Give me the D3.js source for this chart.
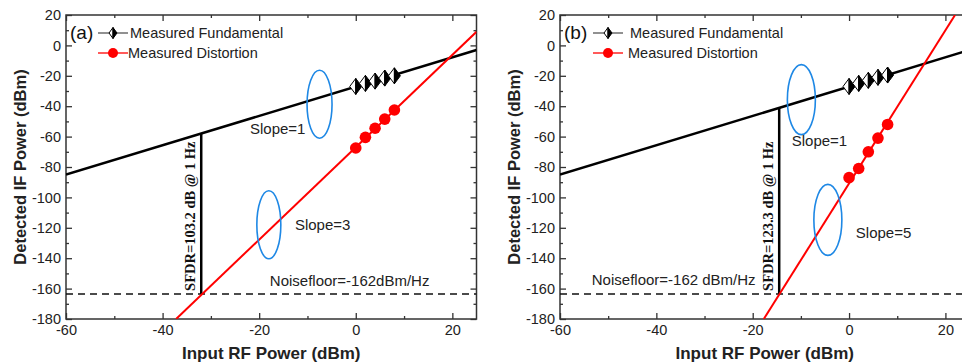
<!DOCTYPE html>
<html>
<head>
<meta charset="utf-8">
<script src="https://cdn.jsdelivr.net/npm/d3@7"></script>
<style>
  body { margin: 0; background: #fff; }
  svg { display: block; font-family: "Liberation Sans", Arial, sans-serif; }
  .tick line { stroke: #333; stroke-width: 1.3; }
</style>
</head>
<body>
<svg id="chart" width="962" height="364"></svg>
<script>
// ---- data ----
const xTicks = [-60, -40, -20, 0, 20];
const xMinor = [-50, -30, -10, 10];
const yTicks = [20, 0, -20, -40, -60, -80, -100, -120, -140, -160, -180];
const yMinor = [10, -10, -30, -50, -70, -90, -110, -130, -150, -170];

const inputPower = [0, 2, 4, 6, 8];
const fundA = [-27, -25, -23.5, -21.5, -20];
const distA = [-67.5, -60.5, -54.5, -48.5, -42.5];
const fundB = [-27, -25, -23, -21, -19.5];
const distB = [-87, -81, -70, -61, -52];

// fitted lines (x, y endpoints)
const fitFund = [[-60, -85], [25, -3]];
const fitDistA = [[-37.2, -180], [25, 9]];
const fitDistB = [[-17.7, -180], [22, 20]];
const noiseFloor = -163.5;
const sfdrXA = -32, sfdrXB = -14.5;

const svg = d3.select("#chart");
svg.append("rect").attr("width", 962).attr("height", 364).attr("fill", "#fff");

const fmt = d => String(d);   // plain hyphen minus like the original

function fundAt(v) {
  const [[x0, y0], [x1, y1]] = fitFund;
  return y0 + (v - x0) * (y1 - y0) / (x1 - x0);
}

function panel(o) {
  const x = d3.scaleLinear().domain([-60, 25]).range([o.left, o.right]);
  const y = d3.scaleLinear().domain([-180, 20]).range([319, 15]);
  const g = svg.append("g");
  const clipId = "clip" + o.tag;
  g.append("clipPath").attr("id", clipId)
    .append("rect").attr("x", o.left).attr("y", 15)
    .attr("width", o.right - o.left).attr("height", 304);

  // axes, ticks inward
  const axes = g.append("g");
  axes.append("g").attr("transform", `translate(${o.left},0)`)
    .call(d3.axisLeft(y).tickValues(yTicks).tickSize(-6).tickPadding(5).tickFormat(fmt));
  axes.append("g").attr("transform", `translate(${o.left},0)`)
    .call(d3.axisLeft(y).tickValues(yMinor).tickSize(-3).tickFormat(""));
  axes.append("g").attr("transform", `translate(${o.right},0)`)
    .call(d3.axisRight(y).tickValues(yTicks).tickSize(-6).tickFormat(""));
  axes.append("g").attr("transform", `translate(${o.right},0)`)
    .call(d3.axisRight(y).tickValues(yMinor).tickSize(-3).tickFormat(""));
  axes.append("g").attr("transform", "translate(0,319)")
    .call(d3.axisBottom(x).tickValues(xTicks).tickSize(-6).tickPadding(6).tickFormat(fmt));
  axes.append("g").attr("transform", "translate(0,319)")
    .call(d3.axisBottom(x).tickValues(xMinor).tickSize(-3).tickFormat(""));
  axes.append("g").attr("transform", "translate(0,15)")
    .call(d3.axisTop(x).tickValues(xTicks).tickSize(-6).tickFormat(""));
  axes.append("g").attr("transform", "translate(0,15)")
    .call(d3.axisTop(x).tickValues(xMinor).tickSize(-3).tickFormat(""));
  axes.selectAll(".domain").remove();
  axes.selectAll("g").attr("font-family", null).attr("font-size", null);
  axes.selectAll(".tick text").attr("fill", "#222").style("font-size", "14.5px");
  g.append("rect").attr("x", o.left).attr("y", 15)
    .attr("width", o.right - o.left).attr("height", 304)
    .attr("fill", "none").attr("stroke", "#333").attr("stroke-width", 1.5);

  // axis titles
  g.append("text").attr("x", (o.left + o.right) / 2).attr("y", 359)
    .attr("text-anchor", "middle").attr("font-weight", "bold").attr("font-size", 17)
    .attr("fill", "#222").text("Input RF Power (dBm)");
  g.append("text").attr("transform", `translate(${o.left - 40},167) rotate(-90)`)
    .attr("text-anchor", "middle").attr("font-weight", "bold").attr("font-size", 16.5)
    .attr("fill", "#222").text("Detected IF Power (dBm)");

  const plot = g.append("g").attr("clip-path", `url(#${clipId})`);
  const line = d3.line().x(d => x(d[0])).y(d => y(d[1]));

  // noise floor
  plot.append("path").datum([[-60, noiseFloor], [25, noiseFloor]])
    .attr("d", line).attr("stroke", "#111").attr("stroke-width", 1.5)
    .attr("stroke-dasharray", "7,5").attr("fill", "none");

  // SFDR bar
  plot.append("path").datum([[o.sfdrX, noiseFloor], [o.sfdrX, fundAt(o.sfdrX)]])
    .attr("d", line).attr("stroke", "#000").attr("stroke-width", 2.5).attr("fill", "none");

  // fit lines
  plot.append("path").datum(fitFund).attr("d", line)
    .attr("stroke", "#000").attr("stroke-width", 2.5).attr("fill", "none");
  plot.append("path").datum(o.fitDist).attr("d", line)
    .attr("stroke", "#f00").attr("stroke-width", 2).attr("fill", "none");

  // measured distortion
  plot.selectAll(".dot").data(inputPower.map((p, i) => [p, o.dist[i]])).enter()
    .append("circle").attr("cx", d => x(d[0])).attr("cy", d => y(d[1]))
    .attr("r", 5.8).attr("fill", "#f00");

  // measured fundamental (half filled diamonds)
  const dia = plot.selectAll(".dia").data(inputPower.map((p, i) => [p, o.fund[i]])).enter()
    .append("g").attr("transform", d => `translate(${x(d[0])},${y(d[1])})`);
  diamond(dia, 6, 8);

  // ellipses
  o.ellipses.forEach(e => {
    g.append("ellipse").attr("cx", x(e.x)).attr("cy", y(e.y))
      .attr("rx", e.rx).attr("ry", e.ry)
      .attr("fill", "none").attr("stroke", "#1e88e5").attr("stroke-width", 1.6);
  });

  // annotations
  o.labels.forEach(l => {
    g.append("text").attr("x", x(l.x)).attr("y", y(l.y)).attr("dy", "0.35em")
      .attr("font-size", 15).attr("fill", "#222").text(l.t);
  });
  g.append("text")
    .attr("transform", `translate(${x(o.sfdrX) - 6},${y(noiseFloor) - 3}) rotate(-90)`)
    .attr("font-family", "'Liberation Serif', 'Times New Roman', serif")
    .attr("font-weight", "bold").attr("font-size", 14.5).attr("fill", "#111")
    .text(o.sfdrText);

  // legend
  const lx = o.left;
  g.append("text").attr("x", lx + 4).attr("y", 39).attr("font-size", 19)
    .attr("fill", "#111").text(o.tag === "a" ? "(a)" : "(b)");
  const l1 = g.append("g").attr("transform", `translate(${lx + o.legDx},33)`);
  l1.append("line").attr("x1", 0).attr("x2", 30).attr("stroke", "#555").attr("stroke-width", 1.3);
  diamond(l1.append("g").attr("transform", "translate(15,0)"), 4, 5.5);
  l1.append("text").attr("x", o.legText).attr("dy", "0.35em").attr("font-size", 14.5)
    .attr("fill", "#222").text("Measured Fundamental");
  const l2 = g.append("g").attr("transform", `translate(${lx + o.legDx},53)`);
  l2.append("line").attr("x1", 0).attr("x2", 30).attr("stroke", "#f00").attr("stroke-width", 1.3);
  l2.append("circle").attr("cx", 15).attr("r", 5).attr("fill", "#f00");
  l2.append("text").attr("x", o.legText - 2).attr("dy", "0.35em").attr("font-size", 14.5)
    .attr("fill", "#222").text("Measured Distortion");
}

function diamond(sel, w, h) {
  sel.append("path").attr("d", `M0,${-h}L${-w},0L0,${h}Z`)
    .attr("fill", "#fff").attr("stroke", "#000").attr("stroke-width", 1);
  sel.append("path").attr("d", `M0,${-h}L${w},0L0,${h}Z`)
    .attr("fill", "#000").attr("stroke", "#000").attr("stroke-width", 1);
}

panel({
  tag: "a", left: 66, right: 476.5,
  fund: fundA, dist: distA, fitDist: fitDistA, sfdrX: sfdrXA,
  sfdrText: "SFDR=103.2 dB @ 1 Hz",
  ellipses: [{x: -7.5, y: -38.7, rx: 12.5, ry: 34}, {x: -18, y: -118, rx: 12, ry: 34}],
  labels: [{x: -21.9, y: -55, t: "Slope=1"}, {x: -12.6, y: -118, t: "Slope=3"},
           {x: -17.8, y: -155, t: "Noisefloor=-162dBm/Hz"}],
  legDx: 32, legText: 32
});
panel({
  tag: "b", left: 560, right: 969.5,
  fund: fundB, dist: distB, fitDist: fitDistB, sfdrX: sfdrXB,
  sfdrText: "SFDR=123.3 dB @ 1 Hz",
  ellipses: [{x: -9.9, y: -35.7, rx: 14, ry: 35}, {x: -4.4, y: -114.8, rx: 14, ry: 35.5}],
  labels: [{x: -11.9, y: -63, t: "Slope=1"}, {x: 1.4, y: -123, t: "Slope=5"},
           {x: -53.4, y: -154.5, t: "Noisefloor=-162 dBm/Hz"}],
  legDx: 33, legText: 37
});
</script>
</body>
</html>
